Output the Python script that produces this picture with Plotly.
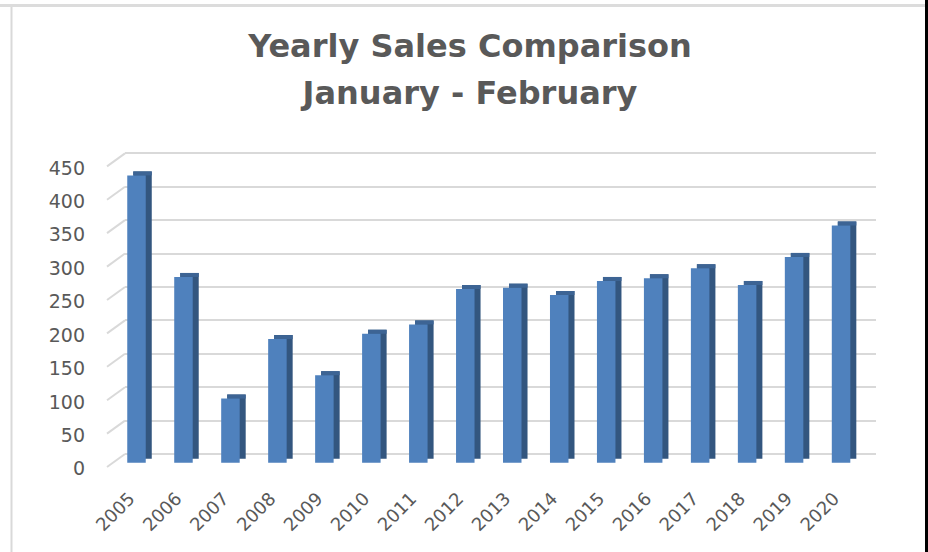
import plotly.graph_objects as go

# ---- data ----
years = ["2005", "2006", "2007", "2008", "2009", "2010", "2011", "2012",
         "2013", "2014", "2015", "2016", "2017", "2018", "2019", "2020"]
sales = [430, 278, 96, 185, 131, 193, 207, 260, 262, 251, 272, 276, 291, 266, 308, 355]
y_ticks = [0, 50, 100, 150, 200, 250, 300, 350, 400, 450]

# ---- style ----
W, H = 928, 552
L, R, T, B = 125, 876, 150, 470          # plot area in pixels
FRONT = "#4f81bd"
SIDE = "#33567f"
TOP = "#3d6494"
GRID = "#d9d9d9"
TXT = "#595959"
FONT = "DejaVu Sans"

BAR_W = 0.394        # front face width (category units)
DX = 0.128           # depth shift to the right (category units)
DY = 6               # depth shift upward (value units)


def px(xp):
    return (xp - L) / (R - L)


def py(yp):
    return (B - yp) / (B - T)


fig = go.Figure()

# side face (depth)
fig.add_trace(go.Bar(x=years, y=sales, base=DY, width=BAR_W, offset=-BAR_W / 2 + DX,
                     marker=dict(color=SIDE, line=dict(width=0)), yaxis="y",
                     hoverinfo="skip", showlegend=False))
# top face
fig.add_trace(go.Bar(x=years, y=[DY] * len(sales), base=sales, width=BAR_W,
                     offset=-BAR_W / 2 + DX,
                     marker=dict(color=TOP, line=dict(width=0)), yaxis="y",
                     hoverinfo="skip", showlegend=False))
# front face
fig.add_trace(go.Bar(x=years, y=sales, width=BAR_W, offset=-BAR_W / 2,
                     marker=dict(color=FRONT, line=dict(width=0)), yaxis="y",
                     name="Sales", showlegend=False))

shapes = []
# slanted left edges of the gridlines (3D wall)
for v in y_ticks:
    shapes.append(dict(type="line", xref="paper", yref="y2",
                       x0=px(107), x1=0, y0=v - 19.5, y1=v,
                       line=dict(color=GRID, width=2), layer="below"))
# chart frame
shapes.append(dict(type="line", xref="paper", yref="paper",
                   x0=px(0), x1=px(925), y0=py(5.5), y1=py(5.5),
                   line=dict(color="#dcdcdc", width=3)))
shapes.append(dict(type="line", xref="paper", yref="paper",
                   x0=px(11.5), x1=px(11.5), y0=py(7), y1=py(552),
                   line=dict(color="#d9d9d9", width=2)))
shapes.append(dict(type="rect", xref="paper", yref="paper",
                   x0=px(925), x1=px(929), y0=py(-1), y1=py(553),
                   fillcolor="#000000", line=dict(width=0)))

fig.update_layout(
    width=W, height=H,
    margin=dict(l=L, r=W - R, t=T, b=H - B, pad=0),
    paper_bgcolor="white", plot_bgcolor="white",
    barmode="overlay",
    title=dict(
        text="<span style='font-size:32px'>Yearly Sales Comparison</span><br>"
             "<span style='font-size:32px'>January - February</span>",
        font=dict(family=FONT, size=36, color=TXT, weight="bold"),
        x=470 / W, xanchor="center", xref="container",
        y=1 - 57 / H, yanchor="top", yref="container"),
    xaxis=dict(type="category", range=[-0.2448, 15.744], showgrid=False,
               zeroline=False, showline=False, tickangle=-45,
               ticks="outside", ticklen=10, tickcolor="rgba(0,0,0,0)",
               ticklabelshift=-7,
               tickfont=dict(family=FONT, size=18, color=TXT)),
    yaxis=dict(range=[-10.92, 468.0], tickvals=y_ticks, showgrid=False,
               zeroline=False, showline=False, ticklabelstandoff=39,
               ticklabelshift=6,
               tickfont=dict(family=FONT, size=19, color=TXT)),
    yaxis2=dict(range=[-23.95, 455.0], overlaying="y", side="left",
                tickvals=y_ticks, showticklabels=False, showgrid=True,
                gridcolor=GRID, gridwidth=2, zeroline=False, showline=False,
                layer="below traces"),
    shapes=shapes,
)

fig.write_html("out.html",
               config={"displayModeBar": False},
               post_script="document.body.style.margin='0';"
                           "document.body.style.overflow='hidden';")
